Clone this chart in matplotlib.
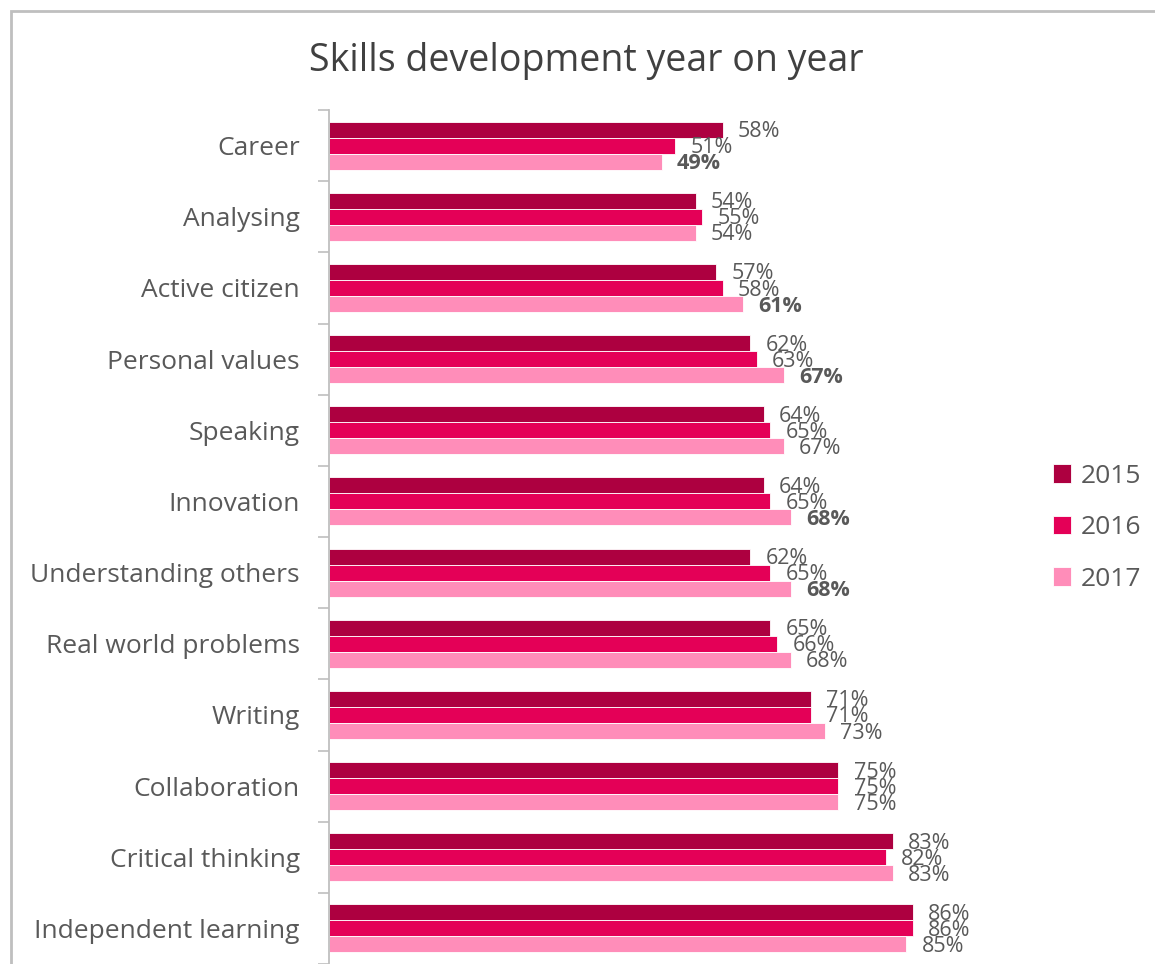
import numpy as np
import matplotlib.pyplot as plt
from matplotlib.patches import Rectangle

plt.rcParams['font.family'] = ['Open Sans', 'DejaVu Sans']

skills = ['Career', 'Analysing', 'Active citizen', 'Personal values', 'Speaking',
          'Innovation', 'Understanding others', 'Real world problems', 'Writing',
          'Collaboration', 'Critical thinking', 'Independent learning']
y2015 = [58, 54, 57, 62, 64, 64, 62, 65, 71, 75, 83, 86]
y2016 = [51, 55, 58, 63, 65, 65, 65, 66, 71, 75, 82, 86]
y2017 = [49, 54, 61, 67, 67, 68, 68, 68, 73, 75, 83, 85]
years = ['2015', '2016', '2017']
colors = ['#AD0040', '#E40057', '#FF8DB9']
# 2017 values printed in bold
bold_2017 = [True, False, True, True, False, True, True, False, False, False, False, False]

txt = '#595959'

fig = plt.figure(figsize=(11.55, 9.64), dpi=100)
ax = fig.add_axes([329 / 1155, 0, 679 / 1155, 1 - 110 / 964])

pos = np.arange(len(skills))
h = 0.225
series = [y2015, y2016, y2017]
for k, (vals, c, lab) in enumerate(zip(series, colors, years)):
    yy = pos + (k - 1) * h
    ax.barh(yy, vals, height=h, color=c, edgecolor='white', linewidth=0.6, label=lab)
    for i, v in enumerate(vals):
        bold = k == 2 and bold_2017[i]
        ax.annotate(f'{v}%', (v, yy[i]), xytext=(11, -1.5), textcoords='offset points',
                    va='center', ha='left', fontsize=15.5, color=txt,
                    fontweight='bold' if bold else 'normal')

ax.set_xlim(0, 100)
ax.set_ylim(len(skills) - 0.5, -0.5)
ax.set_yticks(pos)
ax.set_yticklabels(skills, fontsize=19, color=txt)
ax.set_yticks(np.arange(-0.5, len(skills), 1), minor=True)
ax.tick_params(axis='y', which='major', length=0, pad=21)
ax.tick_params(axis='y', which='minor', length=8, width=1.2, color='#BFBFBF')
ax.set_xticks([])
for s in ['top', 'right', 'bottom']:
    ax.spines[s].set_visible(False)
ax.spines['left'].set_color('#BFBFBF')
ax.spines['left'].set_linewidth(1.3)

fig.text(586 / 1155, 1 - 61 / 964, 'Skills development year on year',
         ha='center', va='center', fontsize=27, color='#404040')

leg = fig.legend(loc='upper left', bbox_to_anchor=(1029 / 1155, 1 - 440 / 964),
                 frameon=False, fontsize=19, handlelength=0.7, handleheight=0.7,
                 handletextpad=0.35, labelspacing=1.0, labelcolor=txt)

# outer frame line along top and left
top = 1 - 11 / 964
fig.add_artist(Rectangle((11 / 1155, -0.1), 2, top + 0.1, transform=fig.transFigure,
                         fill=False, edgecolor='#BFBFBF', linewidth=2))

fig.savefig('out.png', dpi=100)
